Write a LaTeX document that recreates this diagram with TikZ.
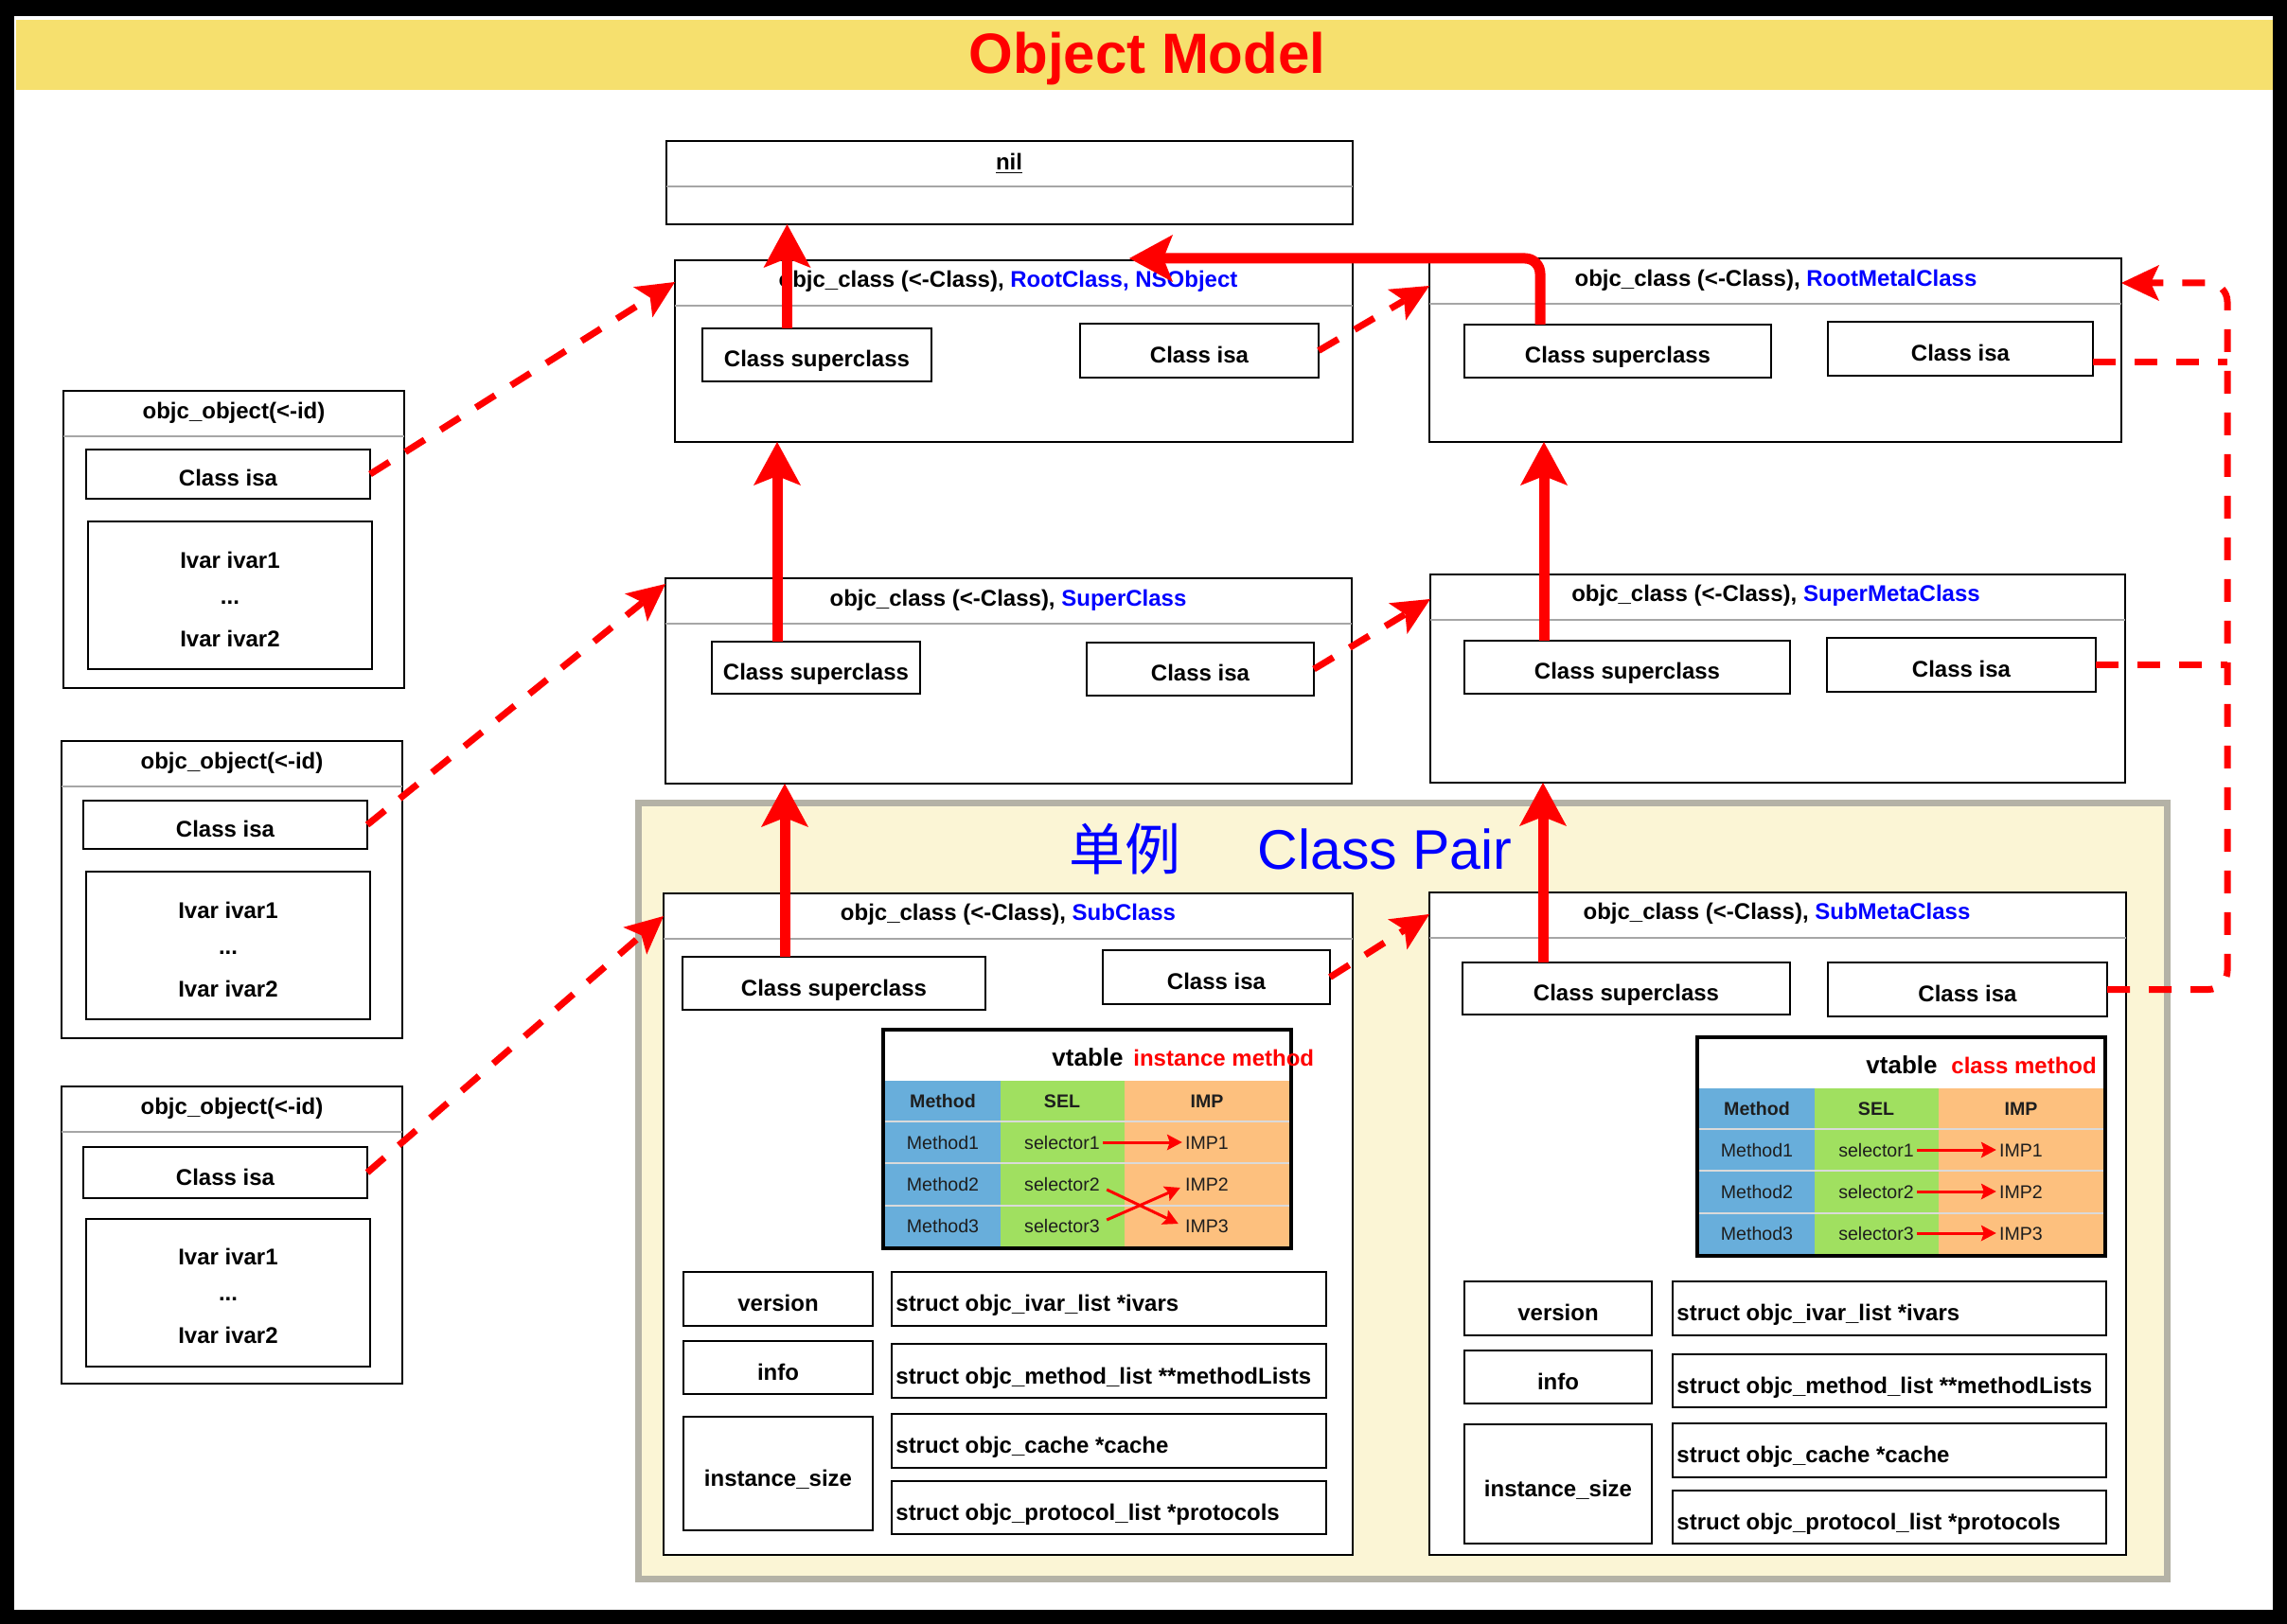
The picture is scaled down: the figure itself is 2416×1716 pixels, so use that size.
\documentclass[tikz,border=0pt]{standalone}
\usepackage{fontspec}
\setmainfont{Liberation Sans}
\newfontfamily\cjk{Noto Sans CJK SC}
\usetikzlibrary{arrows.meta,calc}
\definecolor{titlebg}{RGB}{246,224,110}
\definecolor{pairfill}{RGB}{251,245,213}
\definecolor{pairedge}{RGB}{180,178,166}
\definecolor{sepgray}{RGB}{166,166,166}
\definecolor{mblue}{RGB}{104,174,219}
\definecolor{sgreen}{RGB}{160,224,96}
\definecolor{iorange}{RGB}{253,192,126}
\definecolor{cellline}{RGB}{218,218,218}
\definecolor{celltext}{RGB}{30,30,30}
\definecolor{nsblue}{RGB}{0,0,255}
\tikzset{
 boxst/.style={draw=black,line width=1.2pt,fill=white,inner sep=0pt,outer sep=0pt,
   font=\bfseries\fontsize{12}{14}\selectfont,text height=13pt,text depth=0pt},
 ttlst/.style={inner sep=0pt,font=\bfseries\fontsize{12}{14}\selectfont,text height=8.6pt,text depth=0pt},
 pairst/.style={draw=pairedge,line width=3.5pt,fill=pairfill},
 sepl/.style={draw=sepgray,line width=1.3pt},
 suparrow/.style={draw=red,line width=5.5pt,-{Stealth[length=23pt,width=25pt,inset=5pt,line width=0pt]}},
 isadash/.style={draw=red,line width=3.5pt,dash pattern=on 12pt off 10pt},
 isaarrow/.style={isadash,-{Stealth[length=20pt,width=19pt,inset=4.5pt,line width=0pt]}},
 tarrow/.style={draw=red,line width=1.5pt,-{Stealth[length=8pt,width=8.5pt,inset=1.5pt,line width=0pt]}},
 vtxt/.style={inner sep=0pt,font=\bfseries\fontsize{13}{15}\selectfont},
 vlab/.style={inner sep=0pt,text=red,font=\bfseries\fontsize{12}{14}\selectfont},
 hcell/.style={inner sep=1.5pt,text=celltext,font=\bfseries\fontsize{9.8}{12}\selectfont,text height=7pt,text depth=0pt},
 cell/.style={inner sep=1.5pt,text=celltext,font=\fontsize{9.8}{12}\selectfont,text height=7pt,text depth=0pt},
 pairlbl/.style={inner sep=0pt,text=nsblue,font=\fontsize{29.5}{34}\selectfont},
}
\newcommand\mybox[7][]{\node[boxst,#1,minimum width={(#5-#3)*0.5pt},minimum height={(#6-#4)*0.5pt}] (#2) at ({(#3+#5)/2},{(#4+#6)/2}) {#7};}
\newcommand\vtab[5]{%
\begin{scope}[shift={(#2,#3)}]
\fill[white] (0,0) rectangle (431,54);
\fill[mblue] (0,54) rectangle (124,231);
\fill[sgreen] (124,54) rectangle (255,231);
\fill[iorange] (255,54) rectangle (431,231);
\foreach \yy in {97,141,186}{\draw[cellline,line width=1pt] (0,\yy) -- (431,\yy);}
\draw[line width=1.7pt] (0,0) rectangle (431,231);
\node[vtxt,anchor=base east] (#1vt) at (254,38) {vtable};
\node[vlab,anchor=base west] (#1lab) at (#5,38) {#4};
\node[hcell] (#1hm) at (63,75) {Method};
\node[hcell] (#1hs) at (189,75) {SEL};
\node[hcell] (#1hi) at (342,75) {IMP};
\node[cell] (#1m1) at (63,119) {Method1};
\node[cell] (#1s1) at (189,119) {selector1};
\node[cell] (#1i1) at (342,119) {IMP1};
\node[cell] (#1m2) at (63,163) {Method2};
\node[cell] (#1s2) at (189,163) {selector2};
\node[cell] (#1i2) at (342,163) {IMP2};
\node[cell] (#1m3) at (63,207) {Method3};
\node[cell] (#1s3) at (189,207) {selector3};
\node[cell] (#1i3) at (342,207) {IMP3};
\end{scope}}
\begin{document}
\begin{tikzpicture}[x=0.5pt,y=-0.5pt]
\useasboundingbox (0,0) rectangle (2416,1716);
\fill[black] (0,0) rectangle (2416,1716);
\fill[white] (15,17) rectangle (2401,1701);
\fill[titlebg] (17,21) rectangle (2401,95);
\node[inner sep=0pt,text=red,font=\bfseries\fontsize{30}{36}\selectfont,text height=21.5pt,text depth=0pt] (ttl) at (1212,56) {Object Model};

% Class pair region
\mybox[pairst]{pair}{674.5}{848.5}{2289.5}{1668.5}{}
\node[pairlbl] (pcn) at (1188,897) {\cjk 单例};
\node[pairlbl,text height=21.1pt,text depth=0pt] (pen) at (1463,897) {Class Pair};

% nil
\mybox{nil}{704}{149}{1429}{237}{}
\draw[sepl] (704,197) -- (1429,197);
\node[ttlst] (nilT) at (1066,171) {\underline{nil}};

% RootClass
\mybox{rc}{713}{275}{1429}{467}{}
\draw[sepl] (713,323) -- (1429,323);
\node[ttlst] (rcT) at (1065,295) {objc\_class (<-Class), \textcolor{nsblue}{RootClass, NSObject}};
\mybox{rcSup}{742}{347}{984}{403}{Class superclass}
\mybox{rcIsa}{1141}{342}{1393}{399}{Class isa}

% RootMetalClass
\mybox{rmc}{1510}{273}{2241}{467}{}
\draw[sepl] (1510,321) -- (2241,321);
\node[ttlst] (rmcT) at (1876,294) {objc\_class (<-Class), \textcolor{nsblue}{RootMetalClass}};
\mybox{rmcSup}{1547}{343}{1871}{399}{Class superclass}
\mybox{rmcIsa}{1931}{340}{2211}{397}{Class isa}

% SuperClass
\mybox{sc}{703}{611}{1428}{828}{}
\draw[sepl] (703,659) -- (1428,659);
\node[ttlst] (scT) at (1065,632) {objc\_class (<-Class), \textcolor{nsblue}{SuperClass}};
\mybox{scSup}{752}{678}{972}{733}{Class superclass}
\mybox{scIsa}{1148}{679}{1388}{735}{Class isa}

% SuperMetaClass
\mybox{smc}{1511}{607}{2245}{827}{}
\draw[sepl] (1511,655) -- (2245,655);
\node[ttlst] (smcT) at (1876,627) {objc\_class (<-Class), \textcolor{nsblue}{SuperMetaClass}};
\mybox{smcSup}{1547}{677}{1891}{733}{Class superclass}
\mybox{smcIsa}{1930}{674}{2214}{731}{Class isa}

% SubClass
\mybox{sub}{701}{944}{1429}{1643}{}
\draw[sepl] (701,992) -- (1429,992);
\node[ttlst] (subT) at (1065,964) {objc\_class (<-Class), \textcolor{nsblue}{SubClass}};
\mybox{subSup}{721}{1011}{1041}{1067}{Class superclass}
\mybox{subIsa}{1165}{1004}{1405}{1061}{Class isa}
\vtab{i}{933}{1088}{instance method}{264}
\mybox{subVer}{722}{1344}{922}{1401}{version}
\mybox{subInfo}{722}{1417}{922}{1473}{info}
\mybox{subSize}{722}{1497}{922}{1617}{instance\_size}
\mybox{subIvars}{942}{1344}{1401}{1401}{}
\mybox{subMl}{942}{1420}{1401}{1477}{}
\mybox{subCache}{942}{1494}{1401}{1551}{}
\mybox{subProto}{942}{1565}{1401}{1621}{}
\node[ttlst,anchor=west] (subIvarsT) at ($(subIvars.west)+(4,4)$) {struct objc\_ivar\_list *ivars};
\node[ttlst,anchor=west] (subMlT) at ($(subMl.west)+(4,5)$) {struct objc\_method\_list **methodLists};
\node[ttlst,anchor=west] (subCacheT) at ($(subCache.west)+(4,4)$) {struct objc\_cache *cache};
\node[ttlst,anchor=west] (subProtoT) at ($(subProto.west)+(4,5)$) {struct objc\_protocol\_list *protocols};

% SubMetaClass
\mybox{sm}{1510}{943}{2246}{1643}{}
\draw[sepl] (1510,991) -- (2246,991);
\node[ttlst] (smT) at (1877,963) {objc\_class (<-Class), \textcolor{nsblue}{SubMetaClass}};
\mybox{smSup}{1545}{1017}{1891}{1072}{Class superclass}
\mybox{smIsa}{1931}{1017}{2226}{1074}{Class isa}
\vtab{c}{1793}{1096}{class method}{268}
\mybox{smVer}{1547}{1354}{1745}{1411}{version}
\mybox{smInfo}{1547}{1427}{1745}{1483}{info}
\mybox{smSize}{1547}{1505}{1745}{1631}{instance\_size}
\mybox{smIvars}{1767}{1354}{2225}{1411}{}
\mybox{smMl}{1767}{1431}{2225}{1487}{}
\mybox{smCache}{1767}{1504}{2225}{1561}{}
\mybox{smProto}{1767}{1575}{2225}{1631}{}
\node[ttlst,anchor=west] (smIvarsT) at ($(smIvars.west)+(4,4)$) {struct objc\_ivar\_list *ivars};
\node[ttlst,anchor=west] (smMlT) at ($(smMl.west)+(4,5)$) {struct objc\_method\_list **methodLists};
\node[ttlst,anchor=west] (smCacheT) at ($(smCache.west)+(4,4)$) {struct objc\_cache *cache};
\node[ttlst,anchor=west] (smProtoT) at ($(smProto.west)+(4,5)$) {struct objc\_protocol\_list *protocols};

% objects
\mybox{oa}{67}{413}{427}{727}{}
\draw[sepl] (67,461) -- (427,461);
\node[ttlst] (oaT) at (247,434) {objc\_object(<-id)};
\mybox{oaIsa}{91}{475}{391}{527}{Class isa}
\mybox{oaIv}{93}{551}{393}{707}{}
\node[ttlst] (oaV1) at (243,592) {Ivar ivar1};
\node[ttlst,text height=1.5pt] (oaV2) at (243,637) {...};
\node[ttlst] (oaV3) at (243,675) {Ivar ivar2};

\mybox{ob}{65}{783}{425}{1097}{}
\draw[sepl] (65,831) -- (425,831);
\node[ttlst] (obT) at (245,804) {objc\_object(<-id)};
\mybox{obIsa}{88}{846}{388}{897}{Class isa}
\mybox{obIv}{91}{921}{391}{1077}{}
\node[ttlst] (obV1) at (241,962) {Ivar ivar1};
\node[ttlst,text height=1.5pt] (obV2) at (241,1007) {...};
\node[ttlst] (obV3) at (241,1045) {Ivar ivar2};

\mybox{oc}{65}{1148}{425}{1462}{}
\draw[sepl] (65,1196) -- (425,1196);
\node[ttlst] (ocT) at (245,1169) {objc\_object(<-id)};
\mybox{ocIsa}{88}{1212}{388}{1266}{Class isa}
\mybox{ocIv}{91}{1288}{391}{1444}{}
\node[ttlst] (ocV1) at (241,1328) {Ivar ivar1};
\node[ttlst,text height=1.5pt] (ocV2) at (241,1373) {...};
\node[ttlst] (ocV3) at (241,1411) {Ivar ivar2};

% vtable arrows
\draw[tarrow] (is1.east) -- (ii1.west);
\draw[tarrow] ($(is2.east)+(4,6)$) -- ($(ii3.west)+(-4,-2)$);
\draw[tarrow] ($(is3.east)+(4,-6)$) -- ($(ii2.west)+(-2,4)$);
\draw[tarrow] (cs1.east) -- (ci1.west);
\draw[tarrow] (cs2.east) -- (ci2.west);
\draw[tarrow] (cs3.east) -- (ci3.west);

% isa (dashed) connectors
\draw[isaarrow] (oaIsa.east) -- ($(rc.north west)+(0,23)$);
\draw[isaarrow] (obIsa.east) -- ($(sc.north west)+(0,6)$);
\draw[isaarrow] (ocIsa.east) -- ($(sub.north west)+(0,24)$);
\draw[isaarrow] (rcIsa.east) -- ($(rmc.north west)+(0,29)$);
\draw[isaarrow] (scIsa.east) -- ($(smc.north west)+(0,26)$);
\draw[isaarrow] (subIsa.east) -- ($(sm.north west)+(0,23)$);
\coordinate (lx) at (2353,0);
\coordinate (lpTip) at ($(rmc.north east)+(0,26)$);
\coordinate (r1) at ($(rmcIsa.east)+(0,14)$);
\draw[isaarrow,rounded corners=10pt] (smIsa.east) -- (smIsa.east -| lx) -- (lx |- lpTip) -- (lpTip);
\draw[isadash] (r1) -- (r1 -| lx);
\draw[isadash] (smcIsa.east) -- (smcIsa.east -| lx);

% superclass (solid) connectors
\coordinate (a1) at ($(rcSup.north west)+(89.5,0)$);
\draw[suparrow] (a1) -- (a1 |- nil.south);
\coordinate (a2) at ($(scSup.north west)+(69,0)$);
\draw[suparrow] (a2) -- (a2 |- rc.south);
\coordinate (a3) at ($(subSup.north west)+(108,0)$);
\draw[suparrow] (a3) -- (a3 |- sc.south);
\coordinate (a4) at ($(rmcSup.north west)+(80,0)$);
\coordinate (a4t) at ($(rc.north west)+(480,-2)$);
\draw[suparrow,rounded corners=8pt] (a4) -- (a4 |- a4t) -- (a4t);
\coordinate (a5) at ($(smcSup.north west)+(84,0)$);
\draw[suparrow] (a5) -- (a5 |- rmc.south);
\coordinate (a6) at ($(smSup.north west)+(85,0)$);
\draw[suparrow] (a6) -- (a6 |- smc.south);
\end{tikzpicture}
\end{document}
